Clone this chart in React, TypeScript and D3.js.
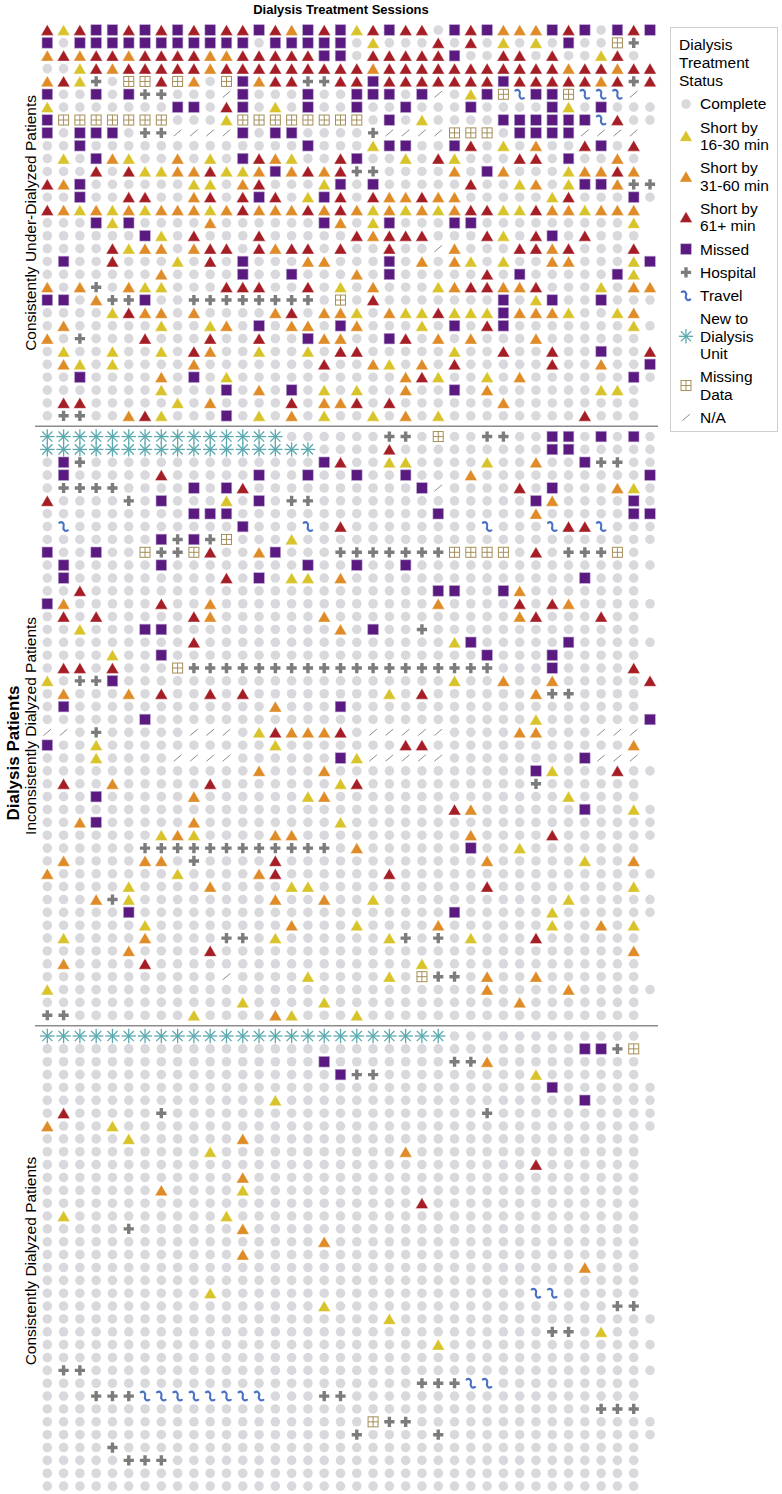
import * as d3 from 'd3'

// one string per patient row, one char per session (cols 0-18 | cols 19-37)
// . complete, Y short 16-30, O short 31-60, R short 61+, M missed,
// H hospital, T travel, N new to unit, D missing data, / n/a, _ no session
const underDialyzed = [
  'RYRMMRMRMRMRRMROMRM YRMRR.MRMOOOMRM.MRM',
  'M.MMMMMMMMMMM.MMMMM .Y...R.R.Y.Y.M..DH_',
  'ORORRORRRROORRRRRMM .RRRRRM..RR.R..YR._',
  '..YRORRRRRORRRRRRRR RORRRRRRRRRRRORRORR',
  'ORYH.DDRDO.DMORRHHR RMRRRRRRRMRRRRRORHR',
  'M..M.MHH.../M...M.. MMM.M/.YMDTMMDTTT/_',
  'Y.......MM.RM.Y.M.. M..M...M....MY.M...',
  'MDDDDDDD...YDDDDDDD D.M.Y....MMMMMMTR..',
  'M.MMM.HH////M.MM... .H////DDD.MMMM////_',
  '..M.............M.. .YMM..MR.Y.O..RM.R_',
  '.Y.MOY..O.Y.MROY..R M..Y.RY...RR.M..O._',
  '...R.RYYOORYYOMOROR HH....O.MO...YOORO_',
  'ROM......YY.OR...YM .M.....R..YO.YMMOHH',
  '..M..RR..OR.RMR.YMR .ROOROO.....YR...M.',
  'ROYOYOYOOOYOROOOROR OYOYOYORRYYROOYOOO_',
  '...MYM....O......MO .YM...MM.........Y_',
  '......MY.R...R..... RORRR...RY.RM.R..._',
  '....RYOO.ORR.RORR.R ..R../O...RROR...R_',
  '.M..R...Y.R.M...OO. ..M.O.OY.Y..OO...YM',
  '.......O....M..M... O.M.....R.M.....MY_',
  'O.OH.OYY...RRR..R.Y .O...YORROOR...Y.OO',
  'MM.OHHM..HHHHHHHH.D .R.......M.YM..M...',
  '....YROO.O....OR.OO Y.OYYRYYYMOOOY..YO_',
  '.O.....Y..YO.M.OO.M O...Y.M.RM.......Y.',
  'O.H...R...R..R..MOO ..MR.O.O...O......_',
  '.Y..Y..Y.RO..Y..Y.R R.....Y..R..R..M..R',
  '.OY.Y....O.......R. .OY.O.R.....R..O..M',
  '..M....O.M.Y....... ...ORY..Y.O......M.',
  '.......Y...M.O.M.Y. Y..O..M.O......YY._',
  '.RR.....Y.O....R.OO R.R......O........_',
  '.HH..ORY...M.Y.O.Y. .Y.O.Y........R..._',
]

const inconsistent = [
  'NNNNNNNNNNNNNNN.... ..HH.D..HH..MM.M.M.',
  'NNNNNNNNNNNNNNNNN.. ..R.........MM.....',
  '.MH..............MR ..YY....Y..O..MHH..',
  '.M.....R.....M..M.. M..M...O..........M',
  '.HHHH....M.MR...... ....M/....R.M...OY.',
  'R....H.M...Y.M.HH.. ...........MO....M.',
  '.........MMM....... .....M.....O.....MM',
  '.T..........M...T.R ........T...TRRT...',
  '.......MHMHD...Y... ...................',
  'M..M..DHHDR..OM...H HHHHHHDDDD.R.HHHD._',
  '.M.....M........M.. M..M...............',
  '.M.........R.M.YY.O ..............M..._',
  '..R................ .....MM..MO......._',
  'MO.....R..O........ .....O....R.RO.....',
  '.R.R.....RO......O. ..........OR...R.._',
  '..Y...MM..........O .M..H............._',
  '.........R......... ......YM.....M.....',
  '....Y..M........... ........M...M....._',
  '.RR.R...DHHHHHHHHHH HHHHHHHHH...M....R_',
  'Y.HHM.............. ......Y..O..O.....R',
  '.O...O.R..R.R...... ..Y.R......OHH...._',
  '.M............O...M .................._',
  '......M............ ...........Y......M',
  '//.H.....///.YROOOR ./////....OO...///_',
  'M..Y..........Y.... ...RR............O_',
  '...Y....////......M Y/////........M///_',
  '.............O...O. ...........MY...R..',
  '.R..O.....R.......Y R..........H......_',
  '...M.....O......YO. .............Y...._',
  '................... ......RO......M..Y.',
  '..OM.....O........Y ...................',
  '.......YOY....OO... .......O....R......',
  '......HHHHHHHHHHHH. O......M..Y......._',
  '.O....OO.H....R.... ........O.....Y..O_',
  'O.......Y....OR.... ..R................',
  '.....Y....O....YY.. ........R........Y_',
  '...OHY........O..O. .Y...........Y.....',
  '.....M............. ......M.....Y......',
  '......Y........O... Y....O......Y..O.Y_',
  '.Y....O....HH.Y.... ..YH.H.Y...R......_',
  '.....O....R........ .................O_',
  '.O....R............ ....Y............._',
  '.........../....Y.. ..Y.DHH.O..O......_',
  'Y.................. ........O....O.....',
  '............Y....Y. ..........O......._',
  'HH.......Y....OY... Y................._',
]

const consistent = [
  'NNNNNNNNNNNNNNNNNNN NNNNNN............_',
  '................... ..............MMHD_',
  '.................M. ......HHO........._',
  '..................M HH.........Y......_',
  '................... ............M......',
  '..............Y.... ..............M....',
  '.R.....H........... ........H..........',
  'O...Y.............. ...................',
  '.....Y......O...... .................._',
  '..........Y........ ...O.............._',
  '................... ...........R......_',
  '............O...... .................._',
  '.......O....Y...... .................._',
  '................... ....R............._',
  '.Y.........Y....... .................._',
  '.....H......O...... .................._',
  '.................O. .................._',
  '............O...... .................._',
  '................... ..............O..._',
  '................... .................._',
  '..........Y........ ...........TT....._',
  '.................Y. ................HH_',
  '................... ..Y................',
  '................... ............HH.Y.._',
  '................... .....Y.............',
  '................... .................._',
  '.HH................ ...................',
  '................... ....HHHTT........._',
  '...HHHTTTTTTTT...HH .................._',
  '................... ...............HHH_',
  '................... .DHH...............',
  '................... H....H.............',
  '....H.............. .................._',
  '.....HHH........... .................._',
  '................... .................._',
  '................... .................._',
]

const sectionRows = [underDialyzed, inconsistent, consistent]
const sectionLabels = [
  'Consistently Under-Dialyzed Patients',
  'Inconsistently Dialyzed Patients',
  'Consistently Dialyzed Patients',
]

const statusKeys = ['.', 'Y', 'O', 'R', 'M', 'H', 'T', 'N', 'D', '/']
const statusLabels = [
  ['Complete'],
  ['Short by', '16-30 min'],
  ['Short by', '31-60 min'],
  ['Short by', '61+ min'],
  ['Missed'],
  ['Hospital'],
  ['Travel'],
  ['New to', 'Dialysis', 'Unit'],
  ['Missing', 'Data'],
  ['N/A'],
]

const colors: Record<string, string> = {
  '.': '#d9d9dd',
  Y: '#d9c32b',
  O: '#df8b27',
  R: '#a61e25',
  M: '#5a1a80',
  H: '#7c7c7c',
  T: '#4a71c3',
  N: '#5ba9ae',
  D: '#a58e58',
  '/': '#8c8c8c',
}

const font = '"Liberation Sans", Arial, sans-serif'

// each half holds 19 sessions; pad short halves with '.' (before a trailing '_')
let half = (h: string) => {
  let tail = h.endsWith('_') ? '_' : ''
  let body = tail ? h.slice(0, -1) : h
  let n = 19 - tail.length
  body = body.length > n ? body.slice(0, n) : body + '.'.repeat(n - body.length)
  return body + tail
}
let parseRow = (r: string) => r.split(' ').map(half).join('')

let crossPath = d3.symbol(d3.symbolCross, 58)()

let Mark = ({ k }: { k: string }) => {
  let c = colors[k]
  if (k === '.') return <circle r={4.8} fill={c} />
  if (k === 'Y' || k === 'O' || k === 'R')
    return <path d="M0,-5.6L6.4,5.4L-6.4,5.4Z" fill={c} stroke="#fff" strokeWidth={0.4} />
  if (k === 'M')
    return <rect x={-5.3} y={-5.3} width={10.6} height={10.6} fill={c} stroke="#b9a3cf" strokeWidth={0.6} />
  if (k === 'H') return <path d={crossPath as string} fill={c} />
  if (k === 'T')
    return (
      <path
        d="M-4.2,-3.8C-1.2,-5.6 1,-2.4 0,0C-1,2.4 1.2,5.6 4.2,3.8"
        fill="none"
        stroke={c}
        strokeWidth={2.2}
        strokeLinecap="round"
      />
    )
  if (k === 'N')
    return (
      <g stroke={c} strokeWidth={1.3}>
        {[0, 45, 90, 135].map(a => {
          let r = 7.2
          let dx = r * Math.cos((a * Math.PI) / 180)
          let dy = r * Math.sin((a * Math.PI) / 180)
          return <line key={a} x1={-dx} y1={-dy} x2={dx} y2={dy} />
        })}
      </g>
    )
  if (k === 'D')
    return (
      <g stroke={c} strokeWidth={1} fill="#fff">
        <rect x={-5} y={-5} width={10} height={10} />
        <line x1={0} y1={-5} x2={0} y2={5} />
        <line x1={-5} y1={0} x2={5} y2={0} />
      </g>
    )
  if (k === '/') return <line x1={-3.8} y1={3.2} x2={3.8} y2={-3.2} stroke={c} strokeWidth={1} />
  return null
}

export default function App() {
  let width = 782
  let height = 1494
  let nCols = 38
  let rowStep = 12.86
  let gap = 7.9
  let top = 30

  let totalRows = sectionRows.reduce((s, r) => s + r.length, 0)

  let xScale = d3.scaleLinear().domain([0, nCols - 1]).range([47.3, 650])
  let yScale = d3
    .scaleLinear()
    .domain([0, totalRows - 1])
    .range([top, top + (totalRows - 1) * rowStep])

  // global row index + section offset
  let sections = []
  let start = 0
  sectionRows.forEach((rows, s) => {
    let ys = rows.map((_, i) => yScale(start + i) + s * gap)
    sections.push({ rows: rows.map(parseRow), ys, label: sectionLabels[s] })
    start += rows.length
  })

  let separators = sections.slice(1).map((sec, i) => {
    let prev = sections[i].ys
    return (prev[prev.length - 1] + sec.ys[0]) / 2
  })

  // legend layout
  let lineH = 17.3
  let itemGap = 23.3
  let ly = 104
  let legendItems = statusKeys.map((k, i) => {
    let lines = statusLabels[i]
    let first = ly
    let last = ly + (lines.length - 1) * lineH
    ly = last + itemGap
    return { k, lines, first, mid: (first + last) / 2 }
  })

  return (
    <svg
      width={width}
      height={height}
      style={{ position: 'absolute', left: 0, top: 0, background: '#fff' }}
      fontFamily={font}
    >
      <text x={341} y={9} dy="0.35em" textAnchor="middle" fontWeight="bold" fontSize={13}>
        Dialysis Treatment Sessions
      </text>

      <text
        transform="translate(13,753) rotate(-90)"
        textAnchor="middle"
        dy="0.35em"
        fontWeight="bold"
        fontSize={17}
      >
        Dialysis Patients
      </text>

      {sections.map((sec, s) => (
        <g key={s}>
          <text
            transform={`translate(31,${(sec.ys[0] + sec.ys[sec.ys.length - 1]) / 2}) rotate(-90)`}
            textAnchor="middle"
            dy="0.35em"
            fontSize={15.5}
          >
            {sec.label}
          </text>
          {sec.rows.map((row, i) =>
            row.split('').map((k, j) =>
              k === '_' ? null : (
                <g key={`${i}-${j}`} transform={`translate(${xScale(j)},${sec.ys[i]})`}>
                  <Mark k={k} />
                </g>
              )
            )
          )}
        </g>
      ))}

      {separators.map((y, i) => (
        <line key={i} x1={35} x2={658} y1={y} y2={y} stroke="#8c8c8c" strokeWidth={1.5} />
      ))}

      <g>
        <rect x={670.5} y={27.5} width={107} height={404} fill="#fff" stroke="#cfcfcf" />
        {['Dialysis', 'Treatment', 'Status'].map((t, i) => (
          <text key={t} x={679} y={45 + i * 18} dy="0.35em" fontSize={15.5}>
            {t}
          </text>
        ))}
        {legendItems.map(it => (
          <g key={it.k}>
            <g transform={`translate(686,${it.mid})`}>
              <Mark k={it.k} />
            </g>
            {it.lines.map((t, i) => (
              <text key={i} x={700} y={it.first + i * lineH} dy="0.35em" fontSize={15.5}>
                {t}
              </text>
            ))}
          </g>
        ))}
      </g>
    </svg>
  )
}
